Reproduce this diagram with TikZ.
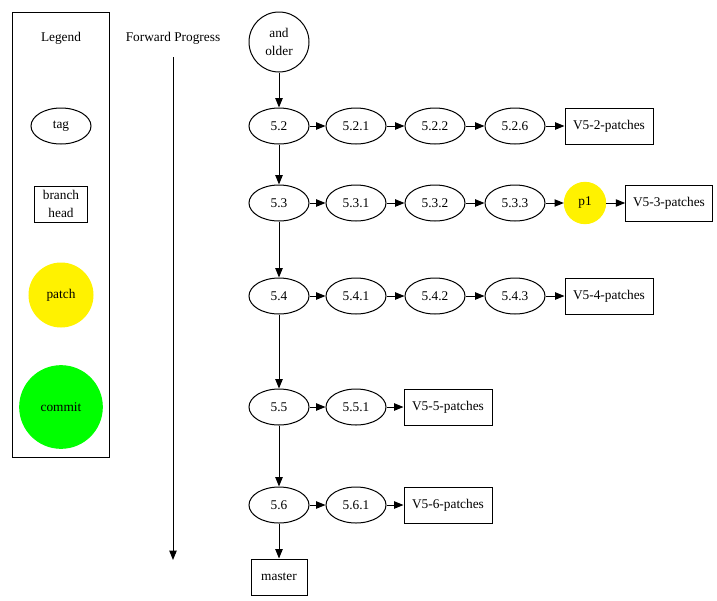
\documentclass[tikz,border=0pt]{standalone}
\usepackage{fontspec}
\setmainfont{Liberation Serif}
\usetikzlibrary{arrows.meta,shapes.geometric}
\tikzset{every picture/.style={line width=0.75pt}}
\tikzset{
  tag/.style={draw, ellipse, minimum width=45pt, minimum height=27pt, inner sep=0pt},
  head/.style={draw, rectangle, minimum height=27pt, inner sep=3pt, align=center},
  patch/.style={draw=yellow, fill=yellow, circle, inner sep=0pt},
  link/.style={-{Triangle[length=7pt,width=5.5pt]}}
}
\begin{document}
\begin{tikzpicture}[x=0.75pt,y=0.75pt,yscale=-1,xscale=1,font=\fontsize{10}{13}\selectfont]
\useasboundingbox (0,0) rectangle (717,600);

% Legend
\draw (12,12) rectangle (109,457);
\node (legend) at (61,38) {Legend};
\node [tag] (ltag) at (61,126) {tag};
\node [head, minimum width=40pt] (lhead) at (61,204) {branch\\head};
\node [patch, minimum size=48pt] (lpatch) at (61,295) {patch};
\node [draw=green, fill=green, circle, minimum size=62pt, inner sep=0pt] (lcommit) at (61,407) {commit};

% Forward progress
\node (fwd) at (173,38) {Forward Progress};
\coordinate (fwdA) at (173,57);
\coordinate (fwdB) at (173,560);
\draw [link] (fwdA) -- (fwdB);

% trunk
\node [draw, circle, minimum size=45pt, inner sep=0pt, align=center] (older) at (279,42) {and\\older};
\node [tag] (v52) at (279,126) {5.2};
\node [tag] (v53) at (279,203) {5.3};
\node [tag] (v54) at (279,296) {5.4};
\node [tag] (v55) at (279,407) {5.5};
\node [tag] (v56) at (279,505) {5.6};
\node [head, minimum width=42pt] (master) at (279,577) {master};
\draw [link] (older) -- (v52);
\draw [link] (v52) -- (v53);
\draw [link] (v53) -- (v54);
\draw [link] (v54) -- (v55);
\draw [link] (v55) -- (v56);
\draw [link] (v56) -- (master);

% 5.2
\node [tag] (v521) at (356,126) {5.2.1};
\node [tag] (v522) at (435,126) {5.2.2};
\node [tag] (v526) at (515,126) {5.2.6};
\node [head, minimum width=66pt] (b52) at (609,126) {V5-2-patches};
\draw [link] (v52) -- (v521);
\draw [link] (v521) -- (v522);
\draw [link] (v522) -- (v526);
\draw [link] (v526) -- (b52);

% 5.3
\node [tag] (v531) at (356,203) {5.3.1};
\node [tag] (v532) at (435,203) {5.3.2};
\node [tag] (v533) at (515,203) {5.3.3};
\node [patch, minimum size=31pt] (p1) at (585,203) {p1};
\node [head, minimum width=65pt] (b53) at (669,203) {V5-3-patches};
\draw [link] (v53) -- (v531);
\draw [link] (v531) -- (v532);
\draw [link] (v532) -- (v533);
\draw [link] (v533) -- (p1);
\draw [link] (p1) -- (b53);

% 5.4
\node [tag] (v541) at (356,296) {5.4.1};
\node [tag] (v542) at (435,296) {5.4.2};
\node [tag] (v543) at (515,296) {5.4.3};
\node [head, minimum width=66pt] (b54) at (609,296) {V5-4-patches};
\draw [link] (v54) -- (v541);
\draw [link] (v541) -- (v542);
\draw [link] (v542) -- (v543);
\draw [link] (v543) -- (b54);

% 5.5
\node [tag] (v551) at (356,407) {5.5.1};
\node [head, minimum width=66pt] (b55) at (448,407) {V5-5-patches};
\draw [link] (v55) -- (v551);
\draw [link] (v551) -- (b55);

% 5.6
\node [tag] (v561) at (356,505) {5.6.1};
\node [head, minimum width=66pt] (b56) at (448,505) {V5-6-patches};
\draw [link] (v56) -- (v561);
\draw [link] (v561) -- (b56);

\end{tikzpicture}
\end{document}
